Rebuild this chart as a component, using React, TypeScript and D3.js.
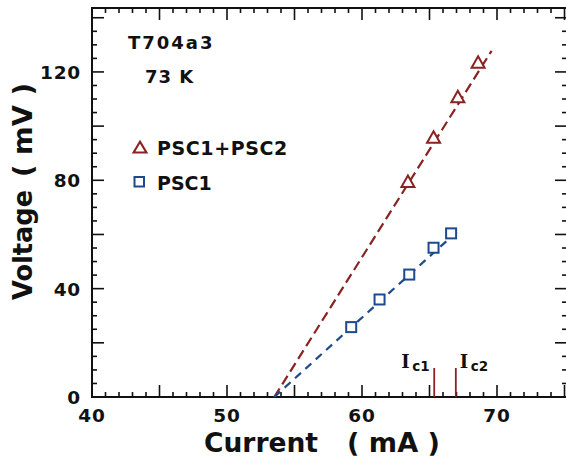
import React from "react";
import * as d3 from "d3";

const W = 566;
const H = 458;

// Data
const psc12Current = [63.4, 65.3, 67.1, 68.6];
const psc12Voltage = [79.3, 95.6, 110.6, 123.3];
const psc1Current = [59.2, 61.3, 63.5, 65.3, 66.6];
const psc1Voltage = [25.8, 36.0, 45.2, 55.1, 60.4];
const fit12Current = [53.5, 69.6];
const fit12Voltage = [0, 127.8];
const fit1Current = [53.5, 67.2];
const fit1Voltage = [0, 61.8];
const icNames = ["c1", "c2"];
const icCurrent = [65.35, 66.95];
const icHeight = 10.7;
const xTickLabels = [40, 50, 60, 70];
const yTickLabels = [0, 40, 80, 120];

const RED = "#8a2222";
const BLUE = "#1d4a8e";
const FONT = "DejaVu Sans, Verdana, sans-serif";

export default function App() {
  const x = d3.scaleLinear().domain([40, 75]).range([92, 564.5]);
  const y = d3.scaleLinear().domain([0, 143.6]).range([397, 8]);
  const [x0] = x.range();
  const xr = 567; // right frame edge (just outside the window)
  const [y0, y1] = y.range();

  const xMinor = d3.range(40, 76, 1);
  const yMinor = d3.range(0, 144, 5);

  const line = d3
    .line<[number, number]>()
    .x((d) => x(d[0]))
    .y((d) => y(d[1]));

  const fit12 = fit12Current.map((c, i) => [c, fit12Voltage[i]] as [number, number]);
  const fit1 = fit1Current.map((c, i) => [c, fit1Voltage[i]] as [number, number]);

  const tri = (cx: number, cy: number, w: number, h: number) =>
    `M${cx},${cy - h * 0.58}L${cx + w / 2},${cy + h * 0.42}L${cx - w / 2},${cy + h * 0.42}Z`;

  return (
    <svg width={W} height={H} style={{ display: "block", position: "absolute", left: 0, top: 0 }}>
      <rect width={W} height={H} fill="#fff" />
      {/* ticks */}
      <g stroke="#111" strokeWidth={1.6}>
        {xMinor.map((v) => {
          const major = v % 5 === 0;
          const len = major ? 12 : 5;
          return (
            <g key={"x" + v}>
              <line x1={x(v)} x2={x(v)} y1={y0} y2={y0 - len} />
              <line x1={x(v)} x2={x(v)} y1={y1} y2={y1 + len} />
            </g>
          );
        })}
        {yMinor.map((v) => {
          const major = v % 20 === 0;
          const len = major ? 12 : 5;
          return (
            <g key={"y" + v}>
              <line x1={x0} x2={x0 + len} y1={y(v)} y2={y(v)} />
              <line x1={xr} x2={xr - len} y1={y(v)} y2={y(v)} />
            </g>
          );
        })}
      </g>
      <rect x={x0} y={y1} width={xr - x0} height={y0 - y1} fill="none" stroke="#111" strokeWidth={2} />

      {/* tick labels */}
      <g fontFamily={FONT} fontWeight="bold" fontSize={18.5} fill="#111" letterSpacing={0.8}>
        {xTickLabels.map((v) => (
          <text key={"xl" + v} x={x(v)} y={y0 + 25} textAnchor="middle">
            {v}
          </text>
        ))}
        {yTickLabels.map((v) => (
          <text key={"yl" + v} x={x0 - 11} y={y(v) + 7} textAnchor="end">
            {v}
          </text>
        ))}
      </g>

      {/* axis titles */}
      <g fontFamily={FONT} fontWeight="bold" fontSize={26} fill="#111">
        <text x={204} y={452} textLength={114} lengthAdjust="spacingAndGlyphs">Current</text>
        <text x={347} y={452} textLength={93} lengthAdjust="spacingAndGlyphs" style={{ whiteSpace: "pre" }}>
          {"( mA )"}
        </text>
        <g transform="translate(32,0)">
          <text transform="translate(0,300) rotate(-90)" textLength={110} lengthAdjust="spacingAndGlyphs">
            Voltage
          </text>
          <text
            transform="translate(0,177) rotate(-90)"
            textLength={94}
            lengthAdjust="spacingAndGlyphs"
            style={{ whiteSpace: "pre" }}
          >
            {"( mV )"}
          </text>
        </g>
      </g>

      {/* annotations */}
      <g fontFamily={FONT} fontWeight="bold" fill="#111">
        <text x={128} y={49} fontSize={18} letterSpacing={2}>T704a3</text>
        <text x={145} y={83} fontSize={18} letterSpacing={1}>73 K</text>
        <text x={157} y={155} fontSize={19} letterSpacing={0.6}>PSC1+PSC2</text>
        <text x={157} y={190} fontSize={19}>PSC1</text>
      </g>
      <path d={tri(140, 148, 13, 11)} fill="none" stroke={RED} strokeWidth={2} />
      <rect x={134.5} y={177} width={9.5} height={9.5} fill="none" stroke={BLUE} strokeWidth={2} />

      {/* fit lines */}
      <path d={line(fit12) || ""} fill="none" stroke={RED} strokeWidth={2.2} strokeDasharray="10,5" />
      <path d={line(fit1) || ""} fill="none" stroke={BLUE} strokeWidth={2.2} strokeDasharray="8,6" />

      {/* markers */}
      {psc12Current.map((c, i) => (
        <path key={"t" + i} d={tri(x(c), y(psc12Voltage[i]), 13, 11.5)} fill="#fff" stroke={RED} strokeWidth={2} />
      ))}
      {psc1Current.map((c, i) => (
        <rect
          key={"s" + i}
          x={x(c) - 5}
          y={y(psc1Voltage[i]) - 5}
          width={10}
          height={10}
          fill="#fff"
          stroke={BLUE}
          strokeWidth={2}
        />
      ))}

      {/* Ic markers */}
      {icCurrent.map((c, i) => {
        const lx = i === 0 ? x(c) - 33 : x(c) + 4;
        return (
          <g key={"ic" + i}>
            <line x1={x(c)} x2={x(c)} y1={y0} y2={y(icHeight)} stroke={RED} strokeWidth={1.8} />
            <text x={lx} y={368} fontFamily="DejaVu Serif, serif" fontWeight="bold" fontSize={18} fill="#111">
              I
            </text>
            <text x={lx + 11} y={371} fontFamily={FONT} fontWeight="bold" fontSize={13.5} fill="#111">
              {icNames[i]}
            </text>
          </g>
        );
      })}
    </svg>
  );
}
